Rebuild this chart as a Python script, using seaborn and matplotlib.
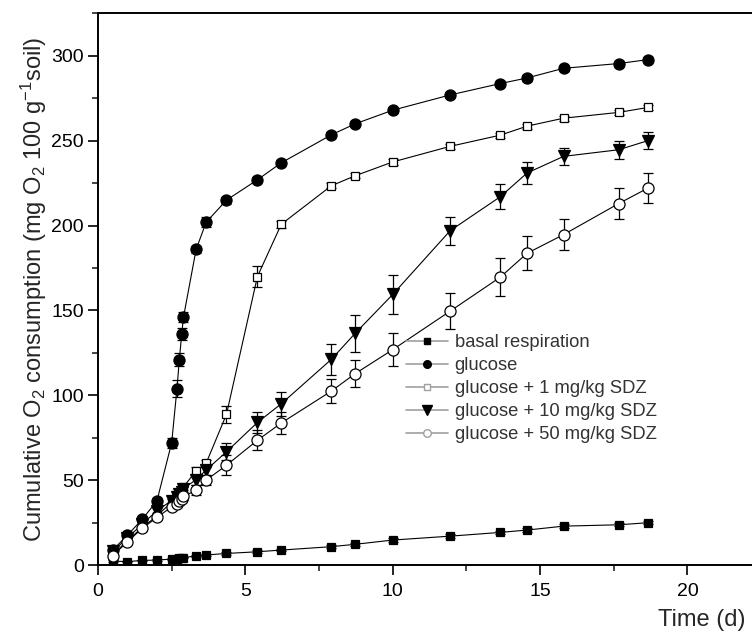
import matplotlib
matplotlib.use("Agg")
import matplotlib.pyplot as plt
import seaborn as sns
import pandas as pd
from matplotlib.lines import Line2D
from matplotlib.ticker import MultipleLocator

# ---- data ----
time_d = [0.5, 1.0, 1.5, 2.0, 2.5, 2.68, 2.76, 2.84, 2.9, 3.33, 3.67, 4.36, 5.41,
          6.22, 7.92, 8.73, 10.0, 11.95, 13.65, 14.56, 15.8, 17.67, 18.65]

basal = [2.3, 2.0, 2.7, 2.9, 3.5, 3.8, 4.0, 4.2, 4.4, 5.3, 5.9, 6.8, 7.8,
         8.8, 10.8, 12.2, 14.7, 17.0, 19.2, 20.6, 22.9, 23.7, 24.9]
basal_sd = [0.5, 0.5, 0.5, 0.5, 0.5, 0.5, 0.5, 0.5, 0.5, 0.6, 0.6, 0.7, 0.8,
            0.8, 0.9, 0.9, 1.0, 1.0, 1.0, 1.0, 1.0, 1.0, 1.0]

glucose = [8.8, 17.6, 26.9, 37.8, 72, 104, 121, 136, 146, 186, 202, 215, 227,
           237, 253.5, 260, 268, 277, 283.7, 287, 292.7, 295.5, 297.8]
glucose_sd = [1, 1, 1, 1.5, 3, 5, 4, 3.5, 3, 2, 3, 2, 1.5,
              1.5, 1.5, 1.5, 1.5, 1.5, 1.5, 1.5, 1.5, 1.5, 1.5]

g1 = [5.9, 14.5, 22, 29, 37, 40, 42, 44, 46, 55.5, 60, 88.8, 170,
      200.8, 223.5, 229.4, 237.5, 246.7, 253.3, 258.6, 263.3, 266.7, 269.6]
g1_sd = [1, 1, 1, 1, 2, 2, 2, 2, 2, 2, 2, 5, 6,
         2, 1.5, 1.5, 1.5, 1.5, 1.5, 1.5, 1.5, 1.5, 1.5]

g10 = [8, 16, 24, 32, 38, 40, 42, 43, 45, 50.3, 56, 66.7, 84,
       95, 121.2, 136.6, 159.4, 197, 217, 231, 240.8, 244.7, 250]
g10_sd = [1, 1, 1, 1.5, 2, 2, 2, 2, 2, 3, 3, 5, 6,
          7, 9, 11, 11.5, 8.3, 7.3, 6.3, 5.2, 5.2, 4.9]

g50 = [5.5, 13.7, 21.6, 28, 34.3, 36, 37.5, 39, 40.5, 44, 50, 58.8, 73.5,
       83.7, 102.5, 112.8, 126.9, 149.6, 169.6, 183.7, 194.7, 213, 222]
g50_sd = [1, 1, 1, 1.5, 2, 2, 2, 2, 2, 3, 3, 5.9, 5.9,
          6.7, 7, 8, 9.8, 10.5, 11.2, 10, 9.2, 9.1, 8.9]

labels = ["basal respiration", "glucose", "glucose + 1 mg/kg SDZ",
          "glucose + 10 mg/kg SDZ", "glucose + 50 mg/kg SDZ"]
means = [basal, glucose, g1, g10, g50]
sds = [basal_sd, glucose_sd, g1_sd, g10_sd, g50_sd]

frames = []
for lab, m, s in zip(labels, means, sds):
    frames.append(pd.DataFrame({"time": time_d, "value": m, "sd": s, "series": lab}))
df = pd.concat(frames, ignore_index=True)

# ---- style ----
sns.set_theme(style="ticks")
plt.rcParams["font.family"] = ["Liberation Sans", "DejaVu Sans"]
plt.rcParams["mathtext.fontset"] = "custom"
plt.rcParams["mathtext.rm"] = "Liberation Sans"
plt.rcParams["mathtext.it"] = "Liberation Sans:italic"
plt.rcParams["mathtext.default"] = "regular"

marker_styles = {
    "basal respiration": dict(marker="s", ms=6.2, mfc="black"),
    "glucose": dict(marker="o", ms=8, mfc="black"),
    "glucose + 1 mg/kg SDZ": dict(marker="s", ms=6.2, mfc="white"),
    "glucose + 10 mg/kg SDZ": dict(marker="v", ms=8.5, mfc="black"),
    "glucose + 50 mg/kg SDZ": dict(marker="o", ms=8, mfc="white"),
}

W, H = 752, 637
fig = plt.figure(figsize=(W / 100, H / 100), dpi=100)
ax = fig.add_axes([98 / W, 72 / H, 654 / W, 552 / H])

for lab in labels:
    sub = df[df["series"] == lab]
    ax.errorbar(sub["time"], sub["value"], yerr=sub["sd"], fmt="none",
                ecolor="black", elinewidth=0.9, capsize=3.5, capthick=0.9, zorder=2)
    st = marker_styles[lab]
    sns.lineplot(data=sub, x="time", y="value", ax=ax, color="black",
                 linewidth=0.8, marker=st["marker"], markersize=st["ms"],
                 markerfacecolor=st["mfc"], markeredgecolor="black",
                 markeredgewidth=0.9, zorder=3, legend=False, sort=False)

ax.set_xlim(0, 654 / 29.47)
ax.set_ylim(0, 552 / 1.697)
ax.xaxis.set_major_locator(MultipleLocator(5))
ax.xaxis.set_minor_locator(MultipleLocator(2.5))
ax.yaxis.set_major_locator(MultipleLocator(50))
ax.yaxis.set_minor_locator(MultipleLocator(25))

ax.tick_params(which="major", direction="out", length=7, width=1.2,
               labelsize=14, colors="black", top=False, right=False)
ax.tick_params(which="minor", direction="out", length=4, width=1.2,
               top=False, right=False)
ax.tick_params(axis="x", which="major", pad=6)
ax.tick_params(axis="y", which="major", pad=3)

for side in ["left", "bottom", "top"]:
    ax.spines[side].set_linewidth(1.4)
    ax.spines[side].set_color("black")
ax.spines["right"].set_visible(False)

ax.set_ylabel(r"Cumulative O$_2$ consumption (mg O$_2$ 100 g$^{-1}$soil)",
              fontsize=17)
ax.yaxis.set_label_coords(-0.075, 0.5)
ax.set_xlabel("Time (d)", fontsize=17, ha="right")
ax.xaxis.set_label_coords(0.9893, -0.079)

# ---- legend ----
grey = "#a0a0a0"
handles = [
    Line2D([], [], color=grey, lw=1.2, marker="s", ms=5, mfc="black", mec="black"),
    Line2D([], [], color=grey, lw=1.2, marker="o", ms=5.5, mfc="black", mec="black"),
    Line2D([], [], color=grey, lw=1.2, marker="s", ms=5, mfc="white", mec=grey),
    Line2D([], [], color=grey, lw=1.2, marker="v", ms=6.5, mfc="black", mec="black"),
    Line2D([], [], color=grey, lw=1.2, marker="o", ms=5.5, mfc="white", mec=grey),
]
leg = ax.legend(handles, labels, loc="upper left",
                bbox_to_anchor=(406 / W, 1 - 334 / H), bbox_transform=fig.transFigure,
                frameon=False, fontsize=13.2, handlelength=2.3, handletextpad=0.35,
                labelspacing=0.33, borderpad=0, borderaxespad=0)
for t in leg.get_texts():
    t.set_color("#333333")

fig.savefig("out.png", dpi=100)
